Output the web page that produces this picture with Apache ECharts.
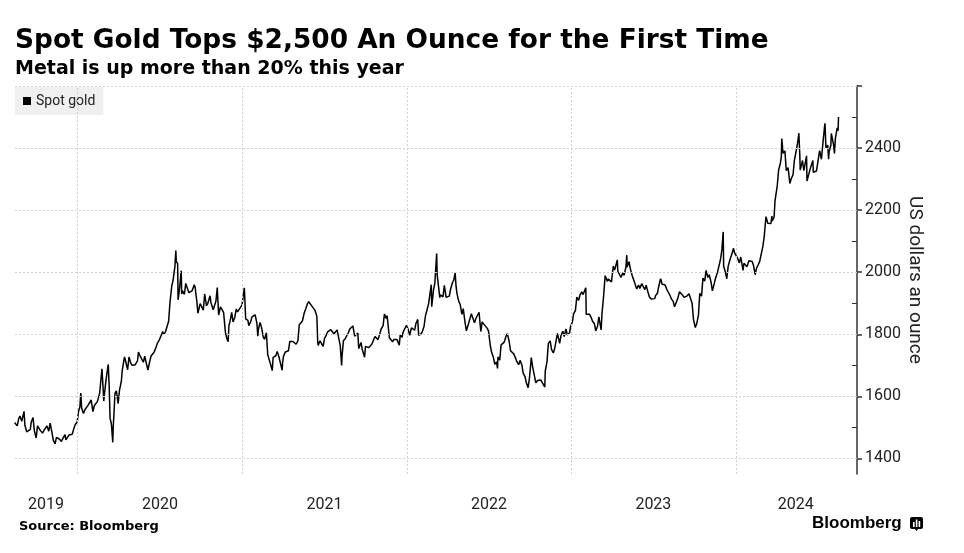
<!DOCTYPE html>
<html><head><meta charset="utf-8">
<script src="https://cdn.jsdelivr.net/npm/echarts@6/dist/echarts.min.js"></script>
<style>html,body{margin:0;padding:0;background:#fff}#c{width:964px;height:553px}</style>
</head><body><div id="c"></div>
<script>
// ---- Data (spot gold, USD/oz) ----
const gold2019 = [
["2019-08-14",1516],["2019-08-16",1513],["2019-08-20",1505],["2019-08-23",1527],["2019-08-26",1537],["2019-08-30",1520],
["2019-09-04",1552],["2019-09-06",1507],["2019-09-10",1486],["2019-09-13",1488],["2019-09-18",1494],["2019-09-20",1517],["2019-09-24",1532],["2019-09-27",1489],
["2019-10-01",1466],["2019-10-04",1505],["2019-10-08",1506],["2019-10-11",1489],["2019-10-15",1482],["2019-10-18",1490],["2019-10-25",1505],["2019-10-29",1488],
["2019-11-01",1514],["2019-11-05",1484],["2019-11-08",1459],["2019-11-12",1447],["2019-11-15",1468],["2019-11-19",1471],["2019-11-22",1462],["2019-11-26",1455],["2019-11-29",1464],
["2019-12-04",1477],["2019-12-06",1460],["2019-12-10",1464],["2019-12-13",1476],["2019-12-20",1478],["2019-12-24",1498],["2019-12-27",1510],["2019-12-31",1517]
];
const gold2020 = [
["2020-01-03",1552],["2020-01-06",1566],["2020-01-08",1611],["2020-01-10",1562],["2020-01-14",1545],["2020-01-17",1557],["2020-01-24",1571],["2020-01-28",1567],["2020-01-31",1589],
["2020-02-04",1551],["2020-02-07",1570],["2020-02-11",1566],["2020-02-14",1584],["2020-02-19",1611],["2020-02-21",1643],["2020-02-24",1689],["2020-02-26",1641],["2020-02-28",1585],
["2020-03-03",1640],["2020-03-06",1674],["2020-03-09",1703],["2020-03-11",1635],["2020-03-13",1530],["2020-03-16",1511],["2020-03-19",1452],["2020-03-20",1498],["2020-03-24",1610],["2020-03-27",1618],["2020-03-31",1577],
["2020-04-03",1620],["2020-04-07",1648],["2020-04-09",1683],["2020-04-14",1727],["2020-04-16",1717],["2020-04-21",1686],["2020-04-24",1727],["2020-04-28",1707],
["2020-05-01",1700],["2020-05-05",1705],["2020-05-08",1702],["2020-05-13",1715],["2020-05-15",1743],["2020-05-18",1732],["2020-05-22",1735],["2020-05-26",1710],["2020-05-29",1730],
["2020-06-02",1728],["2020-06-05",1685],["2020-06-09",1712],["2020-06-12",1730],["2020-06-16",1726],["2020-06-19",1743],["2020-06-24",1762],["2020-06-26",1771],["2020-06-30",1781],
["2020-07-03",1775],["2020-07-08",1809],["2020-07-10",1799],["2020-07-14",1808],["2020-07-17",1810],["2020-07-21",1842],["2020-07-24",1902],["2020-07-28",1956],["2020-07-31",1975],
["2020-08-04",2019],["2020-08-06",2070],["2020-08-07",2035],["2020-08-10",2028],["2020-08-11",1911],["2020-08-12",1915],["2020-08-14",1944],["2020-08-18",2005],["2020-08-19",1930],["2020-08-21",1940],["2020-08-25",1929],["2020-08-28",1964],
["2020-09-01",1970],["2020-09-04",1934],["2020-09-08",1931],["2020-09-11",1940],["2020-09-16",1960],["2020-09-18",1950],["2020-09-22",1901],["2020-09-24",1868],["2020-09-25",1862],["2020-09-29",1899],
["2020-10-02",1900],["2020-10-06",1878],["2020-10-09",1930],["2020-10-13",1892],["2020-10-16",1900],["2020-10-21",1924],["2020-10-23",1902],["2020-10-28",1879],["2020-10-30",1879],
["2020-11-03",1907],["2020-11-06",1951],["2020-11-09",1862],["2020-11-11",1866],["2020-11-13",1888],["2020-11-17",1879],["2020-11-20",1871],["2020-11-24",1807],["2020-11-27",1788],["2020-11-30",1776],
["2020-12-02",1830],["2020-12-04",1839],["2020-12-08",1871],["2020-12-11",1840],["2020-12-15",1855],["2020-12-18",1881],["2020-12-21",1872],["2020-12-25",1877],["2020-12-31",1895]
];
const gold2021 = [
["2021-01-05",1950],["2021-01-06",1920],["2021-01-08",1850],["2021-01-11",1844],["2021-01-13",1845],["2021-01-15",1828],["2021-01-19",1840],["2021-01-22",1856],["2021-01-26",1850],["2021-01-29",1863],
["2021-02-02",1835],["2021-02-04",1794],["2021-02-05",1814],["2021-02-09",1838],["2021-02-12",1824],["2021-02-16",1792],["2021-02-19",1784],["2021-02-23",1805],["2021-02-26",1734],
["2021-03-02",1737],["2021-03-05",1700],["2021-03-08",1683],["2021-03-10",1726],["2021-03-12",1720],["2021-03-16",1731],["2021-03-19",1745],["2021-03-23",1727],["2021-03-26",1733],["2021-03-30",1684],["2021-03-31",1708],
["2021-04-02",1729],["2021-04-06",1743],["2021-04-09",1744],["2021-04-13",1747],["2021-04-16",1777],["2021-04-20",1778],["2021-04-23",1777],["2021-04-27",1778],["2021-04-30",1768],
["2021-05-04",1779],["2021-05-07",1831],["2021-05-11",1836],["2021-05-14",1843],["2021-05-18",1869],["2021-05-21",1881],["2021-05-25",1898],["2021-05-28",1905],
["2021-06-01",1903],["2021-06-04",1891],["2021-06-08",1893],["2021-06-11",1877],["2021-06-15",1858],["2021-06-17",1773],["2021-06-18",1764],["2021-06-22",1779],["2021-06-25",1781],["2021-06-29",1761],
["2021-07-02",1787],["2021-07-06",1797],["2021-07-09",1808],["2021-07-13",1808],["2021-07-16",1815],["2021-07-20",1811],["2021-07-23",1802],["2021-07-27",1798],["2021-07-30",1814],
["2021-08-03",1810],["2021-08-06",1763],["2021-08-09",1700],["2021-08-10",1730],["2021-08-13",1779],["2021-08-17",1786],["2021-08-20",1781],["2021-08-24",1805],["2021-08-27",1817],["2021-08-31",1814],
["2021-09-03",1827],["2021-09-07",1794],["2021-09-10",1788],["2021-09-14",1804],["2021-09-16",1754],["2021-09-21",1774],["2021-09-24",1750],["2021-09-29",1726],
["2021-10-01",1761],["2021-10-05",1760],["2021-10-08",1757],["2021-10-12",1760],["2021-10-15",1768],["2021-10-19",1769],["2021-10-22",1793],["2021-10-26",1793],["2021-10-29",1783],
["2021-11-02",1788],["2021-11-05",1818],["2021-11-09",1827],["2021-11-12",1865],["2021-11-16",1851],["2021-11-18",1860],["2021-11-19",1846],["2021-11-23",1789],["2021-11-26",1788],["2021-11-30",1776],
["2021-12-03",1783],["2021-12-07",1784],["2021-12-10",1783],["2021-12-15",1765],["2021-12-17",1798],["2021-12-21",1790],["2021-12-24",1809],["2021-12-28",1811],["2021-12-31",1829]
];
const gold2022 = [
["2022-01-04",1815],["2022-01-07",1797],["2022-01-11",1821],["2022-01-14",1817],["2022-01-18",1813],["2022-01-21",1835],["2022-01-25",1848],["2022-01-27",1797],["2022-01-28",1791],
["2022-02-01",1801],["2022-02-04",1808],["2022-02-08",1826],["2022-02-11",1859],["2022-02-15",1855],["2022-02-18",1898],["2022-02-22",1899],["2022-02-24",1960],["2022-02-25",1889],
["2022-03-01",1943],["2022-03-04",1966],["2022-03-08",2060],["2022-03-09",1993],["2022-03-11",1988],["2022-03-15",1918],["2022-03-16",1927],["2022-03-18",1921],["2022-03-22",1921],["2022-03-25",1958],["2022-03-29",1919],
["2022-04-01",1925],["2022-04-05",1923],["2022-04-08",1946],["2022-04-12",1966],["2022-04-15",1975],["2022-04-18",1998],["2022-04-20",1955],["2022-04-22",1932],["2022-04-26",1906],["2022-04-29",1897],
["2022-05-03",1864],["2022-05-06",1883],["2022-05-10",1838],["2022-05-13",1811],["2022-05-16",1815],["2022-05-20",1846],["2022-05-24",1866],["2022-05-27",1853],["2022-05-31",1837],
["2022-06-03",1851],["2022-06-07",1852],["2022-06-10",1871],["2022-06-14",1809],["2022-06-17",1840],["2022-06-21",1832],["2022-06-24",1827],["2022-06-28",1820],
["2022-07-01",1811],["2022-07-05",1764],["2022-07-08",1742],["2022-07-12",1725],["2022-07-15",1703],["2022-07-19",1711],["2022-07-21",1690],["2022-07-22",1727],["2022-07-26",1717],["2022-07-29",1766],
["2022-08-02",1760],["2022-08-05",1775],["2022-08-09",1794],["2022-08-10",1795],["2022-08-12",1802],["2022-08-16",1776],["2022-08-19",1747],["2022-08-23",1749],["2022-08-26",1737],["2022-08-30",1724],
["2022-09-02",1712],["2022-09-06",1702],["2022-09-09",1716],["2022-09-13",1702],["2022-09-16",1675],["2022-09-20",1664],["2022-09-23",1644],["2022-09-27",1628],["2022-09-28",1622],["2022-09-30",1660],
["2022-10-04",1725],["2022-10-07",1695],["2022-10-11",1666],["2022-10-14",1644],["2022-10-18",1651],["2022-10-21",1657],["2022-10-25",1653],["2022-10-28",1645],
["2022-11-01",1648],["2022-11-03",1630],["2022-11-04",1681],["2022-11-08",1713],["2022-11-10",1754],["2022-11-11",1771],["2022-11-15",1779],["2022-11-18",1751],["2022-11-22",1740],["2022-11-25",1755],["2022-11-29",1749],
["2022-12-01",1803],["2022-12-02",1797],["2022-12-06",1771],["2022-12-09",1797],["2022-12-13",1810],["2022-12-16",1793],["2022-12-20",1817],["2022-12-23",1798],["2022-12-28",1805],["2022-12-30",1824]
];
const gold2023 = [
["2023-01-03",1839],["2023-01-06",1866],["2023-01-10",1877],["2023-01-13",1920],["2023-01-17",1909],["2023-01-20",1926],["2023-01-24",1937],["2023-01-27",1928],["2023-01-31",1928],
["2023-02-02",1950],["2023-02-03",1865],["2023-02-07",1871],["2023-02-10",1865],["2023-02-14",1854],["2023-02-17",1842],["2023-02-21",1835],["2023-02-24",1811],["2023-02-28",1826],
["2023-03-03",1856],["2023-03-08",1814],["2023-03-10",1868],["2023-03-13",1914],["2023-03-15",1918],["2023-03-17",1989],["2023-03-20",1978],["2023-03-22",1970],["2023-03-24",1978],["2023-03-28",1973],["2023-03-31",1969],
["2023-04-04",2020],["2023-04-05",2020],["2023-04-07",2007],["2023-04-11",2003],["2023-04-13",2040],["2023-04-14",2004],["2023-04-18",2006],["2023-04-21",1983],["2023-04-25",1998],["2023-04-28",1990],
["2023-05-02",2016],["2023-05-04",2055],["2023-05-05",2017],["2023-05-09",2034],["2023-05-12",2011],["2023-05-16",1989],["2023-05-19",1977],["2023-05-23",1975],["2023-05-26",1946],["2023-05-30",1959],
["2023-06-02",1948],["2023-06-06",1963],["2023-06-09",1961],["2023-06-13",1944],["2023-06-16",1958],["2023-06-20",1936],["2023-06-23",1921],["2023-06-27",1914],["2023-06-29",1908],["2023-06-30",1919],
["2023-07-05",1915],["2023-07-07",1925],["2023-07-11",1932],["2023-07-14",1955],["2023-07-18",1979],["2023-07-20",1970],["2023-07-21",1962],["2023-07-25",1965],["2023-07-28",1959],
["2023-08-01",1944],["2023-08-04",1943],["2023-08-08",1925],["2023-08-11",1914],["2023-08-15",1906],["2023-08-18",1889],["2023-08-21",1895],["2023-08-25",1915],["2023-08-29",1937],
["2023-09-01",1940],["2023-09-05",1926],["2023-09-08",1919],["2023-09-12",1913],["2023-09-15",1924],["2023-09-19",1931],["2023-09-22",1925],["2023-09-26",1900],["2023-09-29",1848],
["2023-10-03",1822],["2023-10-05",1820],["2023-10-06",1833],["2023-10-10",1861],["2023-10-13",1932],["2023-10-17",1923],["2023-10-20",1981],["2023-10-24",1971],["2023-10-27",2006],["2023-10-31",1983],
["2023-11-03",1992],["2023-11-07",1968],["2023-11-10",1940],["2023-11-14",1963],["2023-11-17",1981],["2023-11-21",1998],["2023-11-24",2002],["2023-11-28",2041],
["2023-12-01",2072],["2023-12-04",2130],["2023-12-05",2019],["2023-12-08",2005],["2023-12-12",1979],["2023-12-13",1980],["2023-12-15",2019],["2023-12-19",2040],["2023-12-22",2053],["2023-12-27",2077],["2023-12-29",2063]
];
const gold2024 = [
["2024-01-02",2059],["2024-01-05",2045],["2024-01-09",2030],["2024-01-12",2049],["2024-01-17",2006],["2024-01-19",2029],["2024-01-23",2029],["2024-01-26",2018],["2024-01-30",2037],
["2024-02-02",2039],["2024-02-06",2035],["2024-02-09",2024],["2024-02-13",1992],["2024-02-16",2013],["2024-02-20",2025],["2024-02-23",2035],["2024-02-27",2030],
["2024-03-01",2083],["2024-03-04",2114],["2024-03-06",2148],["2024-03-08",2179],["2024-03-12",2158],["2024-03-15",2155],["2024-03-19",2157],["2024-03-21",2181],["2024-03-22",2165],["2024-03-26",2178],["2024-03-28",2230],
["2024-04-02",2279],["2024-04-05",2329],["2024-04-09",2352],["2024-04-11",2372],["2024-04-12",2431],["2024-04-15",2383],["2024-04-19",2391],["2024-04-22",2327],["2024-04-23",2322],["2024-04-26",2337],["2024-04-30",2286],
["2024-05-03",2301],["2024-05-07",2314],["2024-05-10",2360],["2024-05-14",2358],["2024-05-17",2415],["2024-05-20",2448],["2024-05-22",2379],["2024-05-23",2329],["2024-05-24",2334],["2024-05-28",2360],["2024-05-31",2327],
["2024-06-04",2327],["2024-06-06",2375],["2024-06-07",2294],["2024-06-11",2316],["2024-06-14",2333],["2024-06-18",2330],["2024-06-20",2360],["2024-06-21",2322],["2024-06-25",2319],["2024-06-28",2326],
["2024-07-02",2330],["2024-07-05",2392],["2024-07-09",2364],["2024-07-12",2411],["2024-07-16",2469],["2024-07-17",2480],["2024-07-19",2401],["2024-07-23",2409],["2024-07-25",2364],["2024-07-26",2387],["2024-07-30",2410],["2024-07-31",2447],
["2024-08-02",2443],["2024-08-05",2410],["2024-08-07",2383],["2024-08-09",2431],["2024-08-13",2465],["2024-08-15",2456],["2024-08-16",2500]
];

const seriesName = "Spot gold";
const yearStarts = ["2020-01-01","2021-01-01","2022-01-01","2023-01-01","2024-01-01"];
const yearLabelDates = ["2019-10-23","2020-07-02","2021-07-02","2022-07-02","2023-07-02","2024-05-13"];
const yLabelValues = [1400,1600,1800,2000,2200,2400];
const yMajorTicks = [1400,1600,1800,2000,2200,2400,2600];
const yMinorTicks = [1500,1700,1900,2100,2300,2500];
const yGridValues = [1400,1600,1800,2000,2200,2400,2600];
const xRange = ["2019-08-15","2024-09-26"];
const yRange = [1350,2600];

const chartTitle = "Spot Gold Tops $2,500 An Ounce for the First Time";
const chartSubtitle = "Metal is up more than 20% this year";
const sourceText = "Source: Bloomberg";
const yAxisName = "US dollars an ounce";

function ts(s){const p=s.split("-").map(Number);return Date.UTC(p[0],p[1]-1,p[2]);}
const goldData = [].concat(gold2019,gold2020,gold2021,gold2022,gold2023,gold2024).map(d=>[ts(d[0]),d[1]]);

const labelFont = "Roboto";
const chart = echarts.init(document.getElementById("c"), null, {renderer:"canvas"});
chart.setOption({
  animation:false,
  backgroundColor:"#fff",
  title:[
    {text:chartTitle,left:15,top:28,padding:0,textStyle:{fontFamily:"DejaVu Sans",fontWeight:"bold",fontSize:26.4,color:"#000"}},
    {text:chartSubtitle,left:15,top:60,padding:0,textStyle:{fontFamily:"DejaVu Sans",fontWeight:"bold",fontSize:19,color:"#000"}},
    {text:sourceText,left:19,top:520,padding:0,textStyle:{fontFamily:"DejaVu Sans",fontWeight:"bold",fontSize:13,color:"#000"}},
    {text:"Bloomberg",left:812,top:515,padding:0,textStyle:{fontFamily:"Liberation Sans",fontWeight:"bold",fontSize:17,color:"#000"}}
  ],
  legend:{
    data:[seriesName],left:15,top:87,padding:[7,8,7,8],backgroundColor:"#f0f0f0",
    icon:"rect",itemWidth:8,itemHeight:8,selectedMode:false,
    textStyle:{fontFamily:labelFont,fontSize:14,color:"#222"}
  },
  grid:{left:15,right:107,top:86,bottom:79,containLabel:false,outerBoundsMode:"none"},
  xAxis:{
    type:"value",min:ts(xRange[0]),max:ts(xRange[1]),scale:true,
    axisLine:{show:false},axisTick:{show:false},splitLine:{show:false},
    axisLabel:{customValues:yearLabelDates.map(ts),formatter:v=>String(new Date(v).getUTCFullYear()),
      margin:23,fontFamily:labelFont,fontSize:16,color:"#222",hideOverlap:false}
  },
  yAxis:[
    {type:"value",position:"right",min:yRange[0],max:yRange[1],
     name:yAxisName,nameLocation:"middle",nameGap:48,nameRotate:-90,nameMoveOverlap:false,
     nameTextStyle:{fontFamily:labelFont,fontSize:19,color:"#222"},
     axisLine:{show:true,lineStyle:{color:"#333",width:1.5}},
     axisTick:{show:true,customValues:yMajorTicks,length:5,inside:false,lineStyle:{color:"#333",width:1.5}},
     axisLabel:{customValues:yLabelValues,formatter:v=>String(v),margin:8,fontFamily:labelFont,fontSize:16,color:"#222"},
     splitLine:{show:false}},
    {type:"value",position:"right",offset:0,min:yRange[0],max:yRange[1],
     axisLine:{show:false},
     axisTick:{show:true,customValues:yMinorTicks,length:5,inside:true,lineStyle:{color:"#333",width:1}},
     axisLabel:{show:false},splitLine:{show:false}}
  ],
  series:[
    {name:"_grid",type:"line",data:[goldData[0]],showSymbol:false,silent:true,z:1,
     lineStyle:{width:0,opacity:0},
     markLine:{silent:true,symbol:["none","none"],label:{show:false},animation:false,
       emphasis:{disabled:true},
       lineStyle:{color:"#cfcfcf",type:[2,2],width:1},
       data:[...yearStarts.map(d=>({xAxis:ts(d)})),...yGridValues.map(v=>({yAxis:v}))]}},
    {name:seriesName,type:"line",data:goldData,showSymbol:false,z:3,
     lineStyle:{color:"#000",width:1.5},itemStyle:{color:"#000"}}
  ],
  graphic:[
    {type:"group",left:910,top:517,children:[
      {type:"rect",shape:{x:0,y:0,width:13,height:12,r:2},style:{fill:"#000"}},
      {type:"polygon",shape:{points:[[4,11],[9,11],[6.5,14]]},style:{fill:"#000"}},
      {type:"rect",shape:{x:3,y:5,width:1.6,height:5},style:{fill:"#fff"}},
      {type:"rect",shape:{x:5.8,y:2.5,width:1.6,height:7.5},style:{fill:"#fff"}},
      {type:"rect",shape:{x:8.6,y:4,width:1.6,height:6},style:{fill:"#fff"}}
    ]}
  ]
});
</script></body></html>
